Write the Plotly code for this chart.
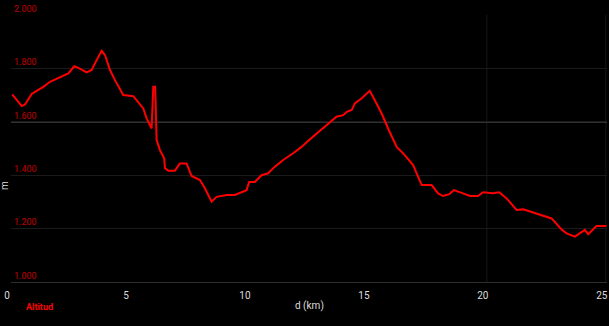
import plotly.graph_objects as go

distance_km = [0.05, 0.24, 0.45, 0.59, 0.87, 1.08, 1.36, 1.64, 1.85, 2.06, 2.41, 2.66, 2.83, 3.18, 3.39,
               3.60, 3.81, 3.95, 4.16, 4.37, 4.72, 5.14, 5.35, 5.56, 5.70, 5.91, 5.98, 6.06, 6.12, 6.26,
               6.44, 6.47, 6.61, 6.89, 7.10, 7.38, 7.59, 7.94, 8.15, 8.36, 8.43, 8.64, 9.06, 9.41, 9.69,
               9.90, 10.01, 10.25, 10.53, 10.81, 11.09, 11.44, 11.86, 12.21, 12.53, 12.77, 13.12, 13.47,
               13.68, 13.96, 14.11, 14.32, 14.45, 14.74, 15.08, 15.29, 15.58, 15.85, 16.21, 16.55, 16.90,
               17.26, 17.68, 17.95, 18.16, 18.42, 18.61, 18.94, 19.29, 19.63, 19.84, 20.26, 20.52, 20.83,
               21.25, 21.53, 21.95, 22.23, 22.72, 23.14, 23.35, 23.70, 23.98, 24.12, 24.26, 24.61, 25.03]
altitude_m = [1703, 1681, 1659, 1665, 1704, 1716, 1731, 1750, 1759, 1768, 1781, 1808, 1802, 1785, 1794,
              1831, 1866, 1850, 1794, 1756, 1700, 1696, 1675, 1650, 1613, 1575, 1731, 1731, 1532, 1494,
              1463, 1426, 1417, 1417, 1444, 1444, 1397, 1382, 1351, 1313, 1301, 1319, 1326, 1326, 1338,
              1344, 1375, 1375, 1400, 1407, 1432, 1457, 1482, 1506, 1532, 1550, 1579, 1604,
              1619, 1625, 1637, 1644, 1669, 1688, 1716, 1681, 1631, 1575, 1506, 1475, 1438,
              1363, 1363, 1332, 1322, 1329, 1344, 1334, 1322, 1322, 1336, 1332, 1336, 1313,
              1270, 1272, 1259, 1251, 1238, 1197, 1182, 1170, 1188, 1195, 1179, 1210, 1210]

x_ticks = [0, 5, 10, 15, 20, 25]
y_ticks = [1000, 1200, 1400, 1600, 1800, 2000]
x_range = [0, 25.05]
y_range = [1000, 2000]
ref_altitude = 1600
marker_km = [20, 25]

fig = go.Figure()
fig.add_trace(go.Scatter(x=distance_km, y=altitude_m, mode="lines", name="Altitud",
                         line=dict(color="#ff0000", width=2), showlegend=False))

for xm in marker_km:
    fig.add_shape(type="line", xref="x", yref="paper", x0=xm, x1=xm, y0=0, y1=1,
                  line=dict(color="#161616", width=1), layer="below")
fig.add_shape(type="line", xref="paper", yref="y", x0=0, x1=1, y0=ref_altitude, y1=ref_altitude,
              line=dict(color="#606060", width=1.5), layer="below")

fig.update_layout(
    width=609, height=326,
    margin=dict(l=11, r=2, t=15, b=44),
    paper_bgcolor="#000000", plot_bgcolor="#000000",
    separators=",.",
    font=dict(family="Roboto, Liberation Sans, sans-serif", size=9, color="#dddddd"),
    xaxis=dict(range=x_range, tickvals=x_ticks, showgrid=False, zeroline=False,
               showline=True, linecolor="#2e2e2e", linewidth=1,
               tickfont=dict(color="#dddddd", size=10), ticklabelshift=-4,
               ticklabelstandoff=4, ticklabeloverflow="allow"),
    yaxis=dict(range=y_range, tickvals=y_ticks, tickformat=",d", showgrid=True,
               gridcolor="#1a1a1a", zeroline=False, showline=False,
               ticklabelposition="inside top", ticklabeloverflow="allow",
               tickfont=dict(color="#c00000", size=9)),
    annotations=[
        dict(text="d (km)", xref="paper", yref="paper", x=0.5, y=0, yshift=-24,
             xanchor="center", yanchor="middle", showarrow=False,
             font=dict(color="#dddddd", size=10)),
        dict(text="m", xref="paper", yref="paper", x=0, y=0.36, xshift=-6,
             xanchor="center", yanchor="middle", textangle=-90, showarrow=False,
             font=dict(color="#dddddd", size=10)),
        dict(text="<b>Altitud</b>", xref="paper", yref="paper", x=0, y=0, xshift=13, yshift=-25,
             xanchor="left", yanchor="middle", showarrow=False,
             font=dict(color="#ff0000", size=9)),
    ],
)

fig.write_html("out.html")
